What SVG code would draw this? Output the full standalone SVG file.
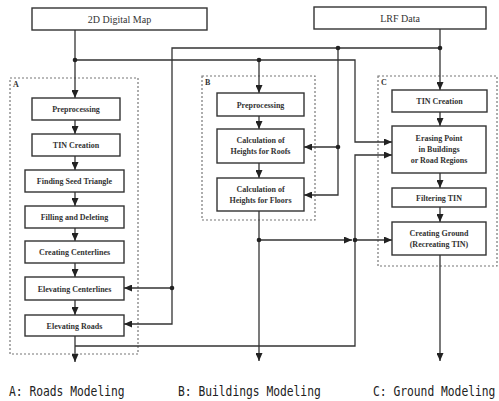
<svg xmlns="http://www.w3.org/2000/svg" width="499" height="401" viewBox="0 0 499 401">
<defs>
<marker id="ah" markerWidth="8" markerHeight="7" refX="8" refY="3.5" orient="auto" markerUnits="userSpaceOnUse">
<path d="M0,0 L8,3.5 L0,7 z" fill="#222"/>
</marker>
<style>
.box{fill:#fff;stroke:#333;stroke-width:1.4}
.grp{fill:none;stroke:#777;stroke-width:1.2;stroke-dasharray:2,2}
.t{font-family:"Liberation Serif",serif;font-size:8px;font-weight:bold;fill:#333;text-anchor:middle}
.tt{font-family:"Liberation Serif",serif;font-size:10px;fill:#333;text-anchor:middle}
.lbl{font-family:"Liberation Serif",serif;font-size:8px;font-weight:bold;fill:#333}
.cap{font-family:"DejaVu Sans Mono","Liberation Mono",monospace;font-size:11.3px;fill:#222}
.c{fill:none;stroke:#333;stroke-width:1.3}
.a{marker-end:url(#ah)}
.d{fill:#222}
</style>
</defs>
<rect width="499" height="401" fill="#fff"/>

<g id="groups">
<rect class="grp" x="10" y="78" width="128" height="276"/>
<text class="lbl" x="13" y="87">A</text>
<rect class="grp" x="202" y="76" width="113" height="144"/>
<text class="lbl" x="205" y="85">B</text>
<rect class="grp" x="378" y="76" width="119" height="190"/>
<text class="lbl" x="381" y="85">C</text>
</g>

<g id="connectors">
<line class="c a" x1="75" y1="30" x2="75" y2="98"/>
<polyline class="c a" points="75,60 355,60 355,142 392,142"/>
<line class="c a" x1="259" y1="60" x2="259" y2="93"/>
<line class="c a" x1="440" y1="29" x2="440" y2="90"/>
<polyline class="c a" points="440,48 172,48 172,324 124,324"/>
<line class="c a" x1="172" y1="288" x2="124" y2="288"/>
<polyline class="c a" points="338,48 338,195 304,195"/>
<line class="c a" x1="338" y1="147" x2="304" y2="147"/>
<line class="c a" x1="75" y1="120" x2="75" y2="134"/>
<line class="c a" x1="75" y1="156" x2="75" y2="170"/>
<line class="c a" x1="75" y1="192" x2="75" y2="206"/>
<line class="c a" x1="75" y1="228" x2="75" y2="241"/>
<line class="c a" x1="75" y1="263" x2="75" y2="277"/>
<line class="c a" x1="75" y1="300" x2="75" y2="315"/>
<line class="c a" x1="75" y1="336" x2="75" y2="362"/>
<polyline class="c a" points="75,346 355,346 355,155 392,155"/>
<line class="c a" x1="259" y1="116" x2="259" y2="129"/>
<line class="c a" x1="259" y1="163" x2="259" y2="178"/>
<line class="c a" x1="259" y1="211" x2="259" y2="361"/>
<line class="c a" x1="259" y1="240" x2="352" y2="240"/>
<line class="c a" x1="355" y1="240" x2="392" y2="240"/>
<line class="c a" x1="440" y1="112" x2="440" y2="126"/>
<line class="c a" x1="440" y1="173" x2="440" y2="188"/>
<line class="c a" x1="440" y1="207" x2="440" y2="222"/>
<line class="c a" x1="440" y1="255" x2="440" y2="361"/>
<circle class="d" cx="75" cy="60" r="2.3"/>
<circle class="d" cx="259" cy="60" r="2.3"/>
<circle class="d" cx="440" cy="48" r="2.3"/>
<circle class="d" cx="338" cy="48" r="2.3"/>
<circle class="d" cx="338" cy="147" r="2.3"/>
<circle class="d" cx="172" cy="288" r="2.3"/>
<circle class="d" cx="259" cy="240" r="2.3"/>
<circle class="d" cx="355" cy="240" r="2.3"/>
</g>

<g id="map2d"><rect class="box" x="32" y="8" width="175" height="22"/><text class="tt" x="119.5" y="22.5">2D Digital Map</text></g>
<g id="lrf"><rect class="box" x="314" y="7" width="172" height="22"/><text class="tt" x="400" y="21.5">LRF Data</text></g>

<g id="a1"><rect class="box" x="32" y="98" width="88" height="22"/><text class="t" x="76" y="112">Preprocessing</text></g>
<g id="a2"><rect class="box" x="32" y="134" width="88" height="22"/><text class="t" x="76" y="148">TIN Creation</text></g>
<g id="a3"><rect class="box" x="25" y="170" width="99" height="22"/><text class="t" x="74.5" y="184">Finding Seed Triangle</text></g>
<g id="a4"><rect class="box" x="25" y="206" width="99" height="22"/><text class="t" x="74.5" y="220">Filling and Deleting</text></g>
<g id="a5"><rect class="box" x="25" y="241" width="99" height="22"/><text class="t" x="74.5" y="255">Creating Centerlines</text></g>
<g id="a6"><rect class="box" x="25" y="277" width="99" height="23"/><text class="t" x="74.5" y="291.5">Elevating Centerlines</text></g>
<g id="a7"><rect class="box" x="25" y="315" width="99" height="21"/><text class="t" x="74.5" y="328.5">Elevating Roads</text></g>

<g id="b1"><rect class="box" x="217" y="93" width="87" height="23"/><text class="t" x="260.5" y="107.5">Preprocessing</text></g>
<g id="b2"><rect class="box" x="217" y="129" width="87" height="34"/><text class="t" x="260.5" y="143">Calculation of</text><text class="t" x="260.5" y="154">Heights for Roofs</text></g>
<g id="b3"><rect class="box" x="217" y="178" width="87" height="33"/><text class="t" x="260.5" y="191.5">Calculation of</text><text class="t" x="260.5" y="202.5">Heights for Floors</text></g>

<g id="c1"><rect class="box" x="392" y="90" width="95" height="22"/><text class="t" x="439.5" y="104">TIN Creation</text></g>
<g id="c2"><rect class="box" x="392" y="126" width="94" height="47"/><text class="t" x="439" y="141">Erasing Point</text><text class="t" x="439" y="152">in Buildings</text><text class="t" x="439" y="163">or Road Regions</text></g>
<g id="c3"><rect class="box" x="392" y="188" width="94" height="19"/><text class="t" x="439" y="200.5">Filtering TIN</text></g>
<g id="c4"><rect class="box" x="392" y="222" width="94" height="33"/><text class="t" x="439" y="235.5">Creating Ground</text><text class="t" x="439" y="246.5">(Recreating TIN)</text></g>

<g id="captions">
<text class="cap" transform="translate(9,396) scale(1,1.25)">A: Roads Modeling</text>
<text class="cap" transform="translate(178,396) scale(1,1.25)">B: Buildings Modeling</text>
<text class="cap" transform="translate(373,396) scale(1,1.25)">C: Ground Modeling</text>
</g>
</svg>
